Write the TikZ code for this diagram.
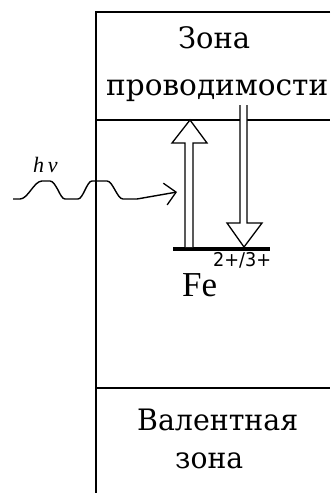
\documentclass[tikz,border=0pt]{standalone}
\usepackage{fontspec}
\usepackage{graphicx}
\usetikzlibrary{arrows.meta}
\setmainfont{Liberation Serif}
\newfontfamily\zonefont{DejaVu Serif}
\newfontfamily\supsans{DejaVu Sans}
\newcommand\fitwidth[2]{\resizebox{#1}{\height}{#2}}
\tikzset{
  frameline/.style={line width=1.5pt, black},
  zonelabel/.style={anchor=base west, inner sep=0pt, font=\zonefont\fontsize{29.5}{30}\selectfont},
  dblarrow/.style={line width=1.3pt, black, fill=white, line join=miter},
  wave/.style={line width=1.4pt, black, -{Straight Barb[length=11pt,width=22pt,line width=1.3pt]}},
}
\begin{document}
\begin{tikzpicture}[x=1pt,y=-1pt]
  \useasboundingbox (0,0) rectangle (330,493);
  \fill[white] (0,0) rectangle (330,493);
  % frame
  \coordinate (tr) at (330,12);
  \coordinate (tl) at (96,12);
  \coordinate (bl) at (96,493);
  \coordinate (cbl) at (96,120);
  \coordinate (cbr) at (330,120);
  \coordinate (vbl) at (96,388);
  \coordinate (vbr) at (330,388);
  \draw[frameline] (tr) -- (tl) -- (bl);
  \draw[frameline] (cbl) -- (cbr);
  \draw[frameline] (vbl) -- (vbr);
  % labels
  \node[zonelabel] (z1) at (178,48) {\fitwidth{72pt}{Зона}};
  \node[zonelabel] (z2) at (106,95) {\fitwidth{222pt}{проводимости}};
  \node[zonelabel] (v1) at (137,430) {\fitwidth{161pt}{Валентная}};
  \node[zonelabel] (v2) at (175,468) {\fitwidth{68pt}{зона}};
  % impurity level
  \coordinate (barl) at (173,249);
  \coordinate (barr) at (270,249);
  \draw[line width=4pt] (barl) -- (barr);
  \node[anchor=base west, inner sep=0pt, font=\rmfamily\fontsize{35}{35}\selectfont] (fe) at (182,296) {Fe};
  \node[anchor=base west, inner sep=0pt, font=\supsans\fontsize{19}{19}\selectfont] (sup) at (213,266) {\fitwidth{58pt}{2+/3+}};
  % up arrow
  \draw[dblarrow] (185,247) -- (185,143) -- (172,143) -- (190,120) -- (207,143) -- (193,143) -- (193,247);
  % down arrow
  \draw[dblarrow] (240,105) -- (240,223) -- (227,223) -- (244,247) -- (262,223) -- (247,223) -- (247,105);
  % photon
  \node[anchor=base west, inner sep=0pt, font=\rmfamily\itshape\fontsize{22}{22}\selectfont] (hv) at (33,172) {h\,ν};
  \coordinate (ws) at (13,199);
  \coordinate (wt) at (177,192);
  \draw[wave] (ws) -- (20,199) cos (31,190) sin (42,181) -- (50,181) cos (58,190) sin (65,199) -- (78,199) cos (85,190) sin (92,181) -- (107,181) cos (115,190) sin (123,199) -- (137,199) -- (wt);
\end{tikzpicture}
\end{document}
